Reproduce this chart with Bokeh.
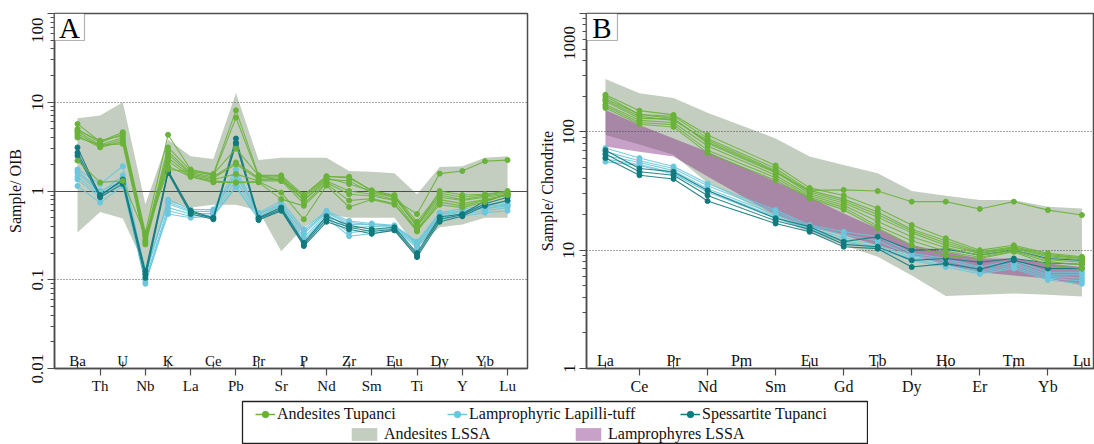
from bokeh.plotting import figure
from bokeh.layouts import column, row
from bokeh.models import (FixedTicker, CustomJSTickFormatter, Label, Legend,
                          LegendItem, Range1d, BoxAnnotation)
from bokeh.core.properties import value
from bokeh.embed import file_html
from bokeh.resources import INLINE
import math

SERIF = "Liberation Serif"

GREEN = "#6AB23A"
LIGHT = "#6CC6DC"
TEAL = "#12797D"
GRAY_FILL = "#C4CEC0"
PURPLE = "#8A3A8A"
AXIS = "#4d4d4d"

# ---------------- Panel A: OIB-normalised multi-element diagram ----------------
oib_elements = ["Ba", "Th", "U", "Nb", "K", "La", "Ce", "Pb", "Pr", "Sr",
                "P", "Nd", "Zr", "Sm", "Eu", "Ti", "Dy", "Y", "Yb", "Lu"]

oib_andesites = [
    [5.7, 3.6, 4.6, 0.34, 4.3, 1.75, 1.55, 8.1, 1.5, 1.5, 0.9, 1.45, 1.45, 1.0, 0.9, 0.45, 0.95, 0.85, 0.9, 0.98],
    [5.0, 3.5, 4.4, 0.30, 3.1, 1.7, 1.5, 6.7, 1.45, 1.45, 0.85, 1.4, 1.2, 1.0, 0.85, 0.42, 0.9, 0.8, 0.88, 0.95],
    [4.7, 3.3, 4.0, 0.28, 2.8, 1.6, 1.45, 2.1, 1.4, 1.4, 0.8, 1.35, 1.3, 0.95, 0.85, 0.40, 0.85, 0.78, 0.85, 0.92],
    [4.45, 3.2, 3.8, 0.27, 2.6, 1.55, 1.4, 2.0, 1.35, 1.35, 0.78, 1.3, 1.0, 0.92, 0.8, 0.55, 1.57, 1.68, 2.17, 2.23],
    [4.2, 3.1, 3.6, 0.26, 2.37, 1.5, 1.35, 1.55, 1.3, 1.3, 0.72, 1.25, 0.92, 0.88, 0.78, 0.37, 0.8, 0.72, 0.8, 0.9],
    [4.0, 3.3, 3.4, 0.25, 2.17, 1.45, 1.3, 1.24, 1.25, 0.81, 0.68, 1.2, 0.78, 0.82, 0.72, 0.35, 0.75, 0.68, 0.78, 0.9],
    [2.2, 1.25, 1.3, 0.32, 1.9, 1.45, 1.25, 1.25, 1.28, 0.96, 0.48, 1.15, 0.66, 0.8, 0.7, 0.36, 0.7, 0.65, 0.75, 0.92],
    [4.8, 3.7, 4.2, 0.31, 1.75, 1.65, 1.55, 3.0, 1.5, 1.3, 0.9, 1.47, 1.4, 1.02, 0.88, 0.40, 1.0, 0.9, 0.92, 1.0],
]

oib_lapilli = [
    [1.75, 1.2, 1.9, 0.11, 0.8, 0.62, 0.62, 1.75, 0.57, 0.77, 0.37, 0.6, 0.46, 0.43, 0.41, 0.27, 0.57, 0.63, 0.68, 0.77],
    [1.6, 0.95, 1.5, 0.12, 0.72, 0.58, 0.6, 1.47, 0.55, 0.72, 0.33, 0.57, 0.42, 0.42, 0.4, 0.26, 0.55, 0.6, 0.66, 0.72],
    [1.45, 0.9, 1.35, 0.10, 0.65, 0.55, 0.56, 1.3, 0.52, 0.68, 0.30, 0.55, 0.38, 0.4, 0.39, 0.25, 0.52, 0.58, 0.63, 0.68],
    [1.35, 0.85, 1.25, 0.09, 0.6, 0.52, 0.54, 1.14, 0.5, 0.65, 0.28, 0.52, 0.34, 0.36, 0.38, 0.24, 0.5, 0.55, 0.6, 0.65],
    [1.14, 0.74, 1.14, 0.095, 0.55, 0.5, 0.52, 1.1, 0.48, 0.6, 0.26, 0.5, 0.31, 0.33, 0.37, 0.23, 0.48, 0.52, 0.57, 0.6],
    [1.68, 1.0, 1.3, 0.13, 0.75, 0.6, 0.58, 1.6, 0.55, 0.7, 0.35, 0.58, 0.44, 0.42, 0.4, 0.26, 0.54, 0.6, 0.64, 0.7],
]

oib_spessartite = [
    [3.1, 0.88, 1.35, 0.125, 1.7, 0.6, 0.5, 3.9, 0.5, 0.65, 0.26, 0.52, 0.41, 0.37, 0.39, 0.20, 0.51, 0.55, 0.77, 0.92],
    [2.7, 0.9, 1.3, 0.115, 1.65, 0.58, 0.49, 3.5, 0.49, 0.62, 0.25, 0.48, 0.39, 0.35, 0.37, 0.19, 0.48, 0.54, 0.72, 0.85],
    [2.5, 0.85, 1.2, 0.105, 1.6, 0.55, 0.48, 3.4, 0.47, 0.6, 0.24, 0.45, 0.37, 0.33, 0.36, 0.18, 0.45, 0.52, 0.68, 0.78],
]

oib_lssa_andesites_max = [6.6, 7.1, 10.0, 0.71, 3.8, 2.47, 2.3, 12.7, 2.23, 2.37,
                          2.37, 2.37, 1.68, 1.65, 1.58, 0.92, 1.86, 1.9, 2.37, 2.47]
oib_lssa_andesites_min = [0.34, 0.58, 0.49, 0.137, 0.75, 0.65, 0.7, 0.7, 0.6, 0.21,
                          0.39, 0.55, 0.5, 0.5, 0.5, 0.23, 0.39, 0.42, 0.5, 0.5]

# ---------------- Panel B: chondrite-normalised REE diagram ----------------
ree_elements = ["La", "Ce", "Pr", "Nd", "Pm", "Sm", "Eu", "Gd", "Tb", "Dy",
                "Ho", "Er", "Tm", "Yb", "Lu"]
ree_measured = [e for e in ree_elements if e != "Pm"]

ree_andesites = [
    [200, 140, 130, 80, 45, 32, 32.3, 31.6, 25.7, 25.7, 22.3, 25.7, 21.8, 19.8],
    [206, 151, 139, 94, 52, 33.6, 29, 22.6, 16.3, 12.6, 10, 11, 9.4, 8.8],
    [190, 140, 135, 88, 49, 32, 27, 21, 15, 12, 9.7, 10.7, 9.2, 8.6],
    [180, 130, 128, 82, 46, 30, 25, 19, 14, 11, 9.4, 10.3, 8.8, 8.3],
    [170, 125, 120, 76, 43, 29, 24, 17.5, 13, 10.5, 9, 10, 8.3, 7.9],
    [165, 120, 115, 70, 41, 28, 23, 16, 12, 9.8, 8.7, 9.8, 8, 7.5],
    [159, 116, 110, 66, 39, 27.3, 22, 15.3, 11, 9, 8.5, 9.7, 7.5, 7.0],
    [185, 135, 125, 85, 47, 31, 26, 20, 14.5, 11.5, 9.5, 10.5, 9, 8.5],
]

ree_lapilli = [
    [73, 60, 51, 36.6, 21.8, 16.3, 14.3, 13, 9.4, 8.5, 7.2, 8.2, 6.5, 6.5],
    [68, 57, 49, 35, 21, 15.8, 13.5, 12, 9, 8.2, 7, 7.8, 6.2, 6.2],
    [63, 55, 47, 33, 20, 15.3, 12.8, 11, 8.7, 7.8, 6.7, 7.5, 6, 5.8],
    [59, 53, 45, 32, 19.2, 15, 12.2, 10.6, 8.4, 7.5, 6.5, 7.2, 5.8, 5.5],
    [56, 52, 44, 31, 18.6, 14.8, 11.8, 10.3, 8.2, 7.2, 6.3, 7, 5.6, 5.2],
]

ree_spessartite = [
    [70, 49, 46, 32, 18.6, 15.8, 11.8, 13, 10, 10.2, 9.1, 10, 8.5, 8.2],
    [65, 46, 43, 29, 17.7, 15, 11.2, 10.7, 8.2, 8.5, 7.9, 8.5, 7.8, 7.6],
    [60, 43, 40, 26, 16.8, 14.3, 10.7, 10.3, 7.2, 7.7, 6.9, 8.2, 7, 7],
]

ree_lssa_andesites_max = [279, 212, 193, 145, 88, 62, 52.5, 44.6, 31.6, 28.9, 26.5, 26.5, 23.3, 22.5]
ree_lssa_andesites_min = [94, 78, 64, 37, 19, 14, 11, 8.8, 6.1, 4.1, 4.2, 4.3, 4.2, 4.05]
ree_lssa_lamprophyres_max = [153, 114, 88, 68, 38, 28, 20.4, 15.2, 11, 9.7, 8.5, 8.5, 7.7, 7.2]
ree_lssa_lamprophyres_min = [75, 68, 62, 42, 19.8, 15.8, 13.4, 11, 9.1, 7.5, 6.5, 6.1, 5.75, 5.05]

FRAME_TOP = 13
FRAME_BOTTOM_BORDER = 30
PANEL_HEIGHT = 398
TICK_LEN = 7
FIGURE_SPACE = "\u2007"


class FrameGeom:
    """Pixel <-> data helpers for a log-y panel with a fixed frame."""

    def __init__(self, p, left, right):
        self.w = p.width - left - right
        self.h = PANEL_HEIGHT - FRAME_TOP - FRAME_BOTTOM_BORDER
        self.x0, self.x1 = p.x_range.start, p.x_range.end
        self.y0, self.y1 = p.y_range.start, p.y_range.end
        self.dec = math.log10(self.y1 / self.y0)

    def dx(self, px):
        return px * (self.x1 - self.x0) / self.w

    def y_down_from_top(self, px):
        return self.y1 / 10 ** (px * self.dec / self.h)

    def y_up_from_bottom(self, px):
        return self.y0 * 10 ** (px * self.dec / self.h)


def style_panel(p, g, elements, ylabel, y_major, label_size):
    p.grid.visible = False
    p.outline_line_color = AXIS
    p.outline_line_width = 1.5

    # left (log) axis
    ya = p.yaxis[0]
    minors = [k * 10.0 ** e for e in range(int(round(math.log10(y_major[0]))),
                                          int(round(math.log10(y_major[-1]))))
              for k in range(2, 10)]
    ya.ticker = FixedTicker(ticks=y_major, minor_ticks=minors)
    ya.formatter = CustomJSTickFormatter(code="return tick.toString();")
    # the top decade label sits below its tick, inside the frame height
    top = str(y_major[-1])
    ya.major_label_overrides = {y_major[-1]: top + FIGURE_SPACE * (len(top) - 1)}
    ya.major_label_orientation = "vertical"
    ya.major_label_text_font = SERIF
    ya.major_label_text_font_size = "17px"
    ya.major_label_text_color = "#111111"
    ya.major_label_standoff = 1
    ya.axis_label = ylabel
    ya.axis_label_text_font = SERIF
    ya.axis_label_text_font_style = "normal"
    ya.axis_label_text_font_size = "16px"
    ya.axis_label_text_color = "#111111"
    ya.axis_label_standoff = 1
    ya.axis_line_color = AXIS
    ya.axis_line_width = 1.5
    ya.major_tick_line_color = AXIS
    ya.minor_tick_line_color = AXIS
    ya.major_tick_line_width = 1.2
    ya.major_tick_in = 0
    ya.major_tick_out = TICK_LEN
    ya.minor_tick_in = 0
    ya.minor_tick_out = 4

    # bottom axis: odd positions labelled below the axis
    xa = p.xaxis[0]
    odd = list(range(1, len(elements), 2))
    xa.ticker = FixedTicker(ticks=odd)
    xa.major_label_overrides = {i: elements[i] for i in odd}
    xa.major_label_text_font = SERIF
    xa.major_label_text_font_size = label_size
    xa.major_label_text_color = "#111111"
    xa.major_label_standoff = 2
    xa.axis_line_color = AXIS
    xa.axis_line_width = 1.5
    xa.major_tick_line_color = AXIS
    xa.major_tick_line_width = 1.2
    xa.major_tick_in = 0
    xa.major_tick_out = TICK_LEN

    # even positions: short ticks pointing inwards, names written above the axis
    even = list(range(0, len(elements), 2))
    y_tick_top = g.y_up_from_bottom(TICK_LEN)
    p.segment(x0=even, x1=even, y0=[g.y0] * len(even), y1=[y_tick_top] * len(even),
              line_color=AXIS, line_width=1.2)
    p.text(x=even, y=[y_tick_top] * len(even), text=[elements[i] for i in even],
           text_align="center", text_baseline="alphabetic", y_offset=-1,
           text_font=value(SERIF), text_font_size=label_size, text_color="#111111")


def draw_samples(p, xs, samples, color):
    for vals in samples:
        p.line(x=xs, y=vals, line_color=color, line_width=1.1, line_alpha=0.9)
        p.scatter(x=xs, y=vals, size=5, fill_color=color, line_color=color)


def panel_letter(p, g, letter, box_w):
    box_h = 27
    p.add_layout(BoxAnnotation(left=g.x0, right=g.x0 + g.dx(box_w),
                               top=g.y1, bottom=g.y_down_from_top(box_h),
                               fill_color="white", fill_alpha=1.0,
                               line_color="#000000", line_width=1.2, level="annotation"))
    p.add_layout(Label(x=g.x0 + g.dx(box_w / 2), y=g.y_down_from_top(box_h / 2 + 1),
                       text=letter, text_align="center", text_baseline="middle",
                       text_font=SERIF, text_font_size="29px", text_color="#000000"))


# ---- Panel A ----
A_LEFT, A_RIGHT = 54, 8
pA = figure(width=535, height=PANEL_HEIGHT, x_range=Range1d(-1.016, 19.88),
            y_range=Range1d(0.01, 100), y_axis_type="log",
            output_backend="svg", toolbar_location=None,
            min_border_left=A_LEFT, min_border_right=A_RIGHT, min_border_top=FRAME_TOP,
            min_border_bottom=FRAME_BOTTOM_BORDER)
gA = FrameGeom(pA, A_LEFT, A_RIGHT)
xa_idx = list(range(len(oib_elements)))
pA.varea(x=xa_idx, y1=oib_lssa_andesites_min, y2=oib_lssa_andesites_max,
         fill_color=GRAY_FILL)
pA.hspan(y=[0.1, 10], line_color=AXIS, line_width=1, line_dash="1 2")
pA.hspan(y=[1], line_color=AXIS, line_width=1.2)
draw_samples(pA, xa_idx, oib_lapilli, LIGHT)
draw_samples(pA, xa_idx, oib_spessartite, TEAL)
draw_samples(pA, xa_idx, oib_andesites, GREEN)
style_panel(pA, gA, oib_elements, "Sample/ OIB", [0.01, 0.1, 1, 10, 100], "15px")
panel_letter(pA, gA, "A", 30)

# ---- Panel B ----
B_LEFT, B_RIGHT = 50, 0
pB = figure(width=559, height=PANEL_HEIGHT, x_range=Range1d(-0.557, 14.37),
            y_range=Range1d(1, 1000), y_axis_type="log",
            output_backend="svg", toolbar_location=None,
            min_border_left=B_LEFT, min_border_right=B_RIGHT, min_border_top=FRAME_TOP,
            min_border_bottom=FRAME_BOTTOM_BORDER)
gB = FrameGeom(pB, B_LEFT, B_RIGHT)
xb_idx = [ree_elements.index(e) for e in ree_measured]
pB.varea(x=xb_idx, y1=ree_lssa_andesites_min, y2=ree_lssa_andesites_max,
         fill_color=GRAY_FILL)
pB.varea(x=xb_idx, y1=ree_lssa_lamprophyres_min, y2=ree_lssa_lamprophyres_max,
         fill_color=PURPLE, fill_alpha=0.48)
pB.hspan(y=[10, 100], line_color=AXIS, line_width=1, line_dash="1 2")
draw_samples(pB, xb_idx, ree_lapilli, LIGHT)
draw_samples(pB, xb_idx, ree_spessartite, TEAL)
draw_samples(pB, xb_idx, ree_andesites, GREEN)
style_panel(pB, gB, ree_elements, "Sample/ Chondrite", [1, 10, 100, 1000], "16px")
panel_letter(pB, gB, "B", 31)

# ---- Shared legend ----
pL = figure(width=868, height=46, x_range=Range1d(0, 1), y_range=Range1d(0, 1),
            output_backend="svg", toolbar_location=None,
            x_axis_location=None, y_axis_location=None,
            min_border_left=242, min_border_right=0, min_border_top=3,
            min_border_bottom=1)
pL.grid.visible = False
pL.outline_line_color = "#222222"
pL.outline_line_width = 1.3

# legend swatches are fed a point lying outside the visible box
series_entries = [("Andesites Tupanci", GREEN, (13, 20)),
                  ("Lamprophyric Lapilli-tuff", LIGHT, (205, 20)),
                  ("Spessartite Tupanci", TEAL, (438, 20))]
for name, color, loc in series_entries:
    rl = pL.line(x=[5, 6], y=[5, 5], line_color=color, line_width=1.5)
    rs = pL.scatter(x=[5], y=[5], size=9, fill_color=color, line_color=color)
    pL.add_layout(Legend(items=[LegendItem(label=name, renderers=[rl, rs])],
                         location=loc, orientation="horizontal",
                         border_line_color=None, background_fill_alpha=0,
                         padding=0, margin=0, spacing=0,
                         glyph_width=20, glyph_height=16, label_standoff=2,
                         label_text_font=SERIF, label_text_font_size="16px",
                         label_text_color="#111111"))

area_entries = [("Andesites LSSA", GRAY_FILL, 1.0, (106, 0)),
                ("Lamprophyres LSSA", PURPLE, 0.48, (330, 0))]
for name, color, alpha, loc in area_entries:
    ra = pL.varea(x=[5, 6], y1=[5, 5], y2=[6, 6], fill_color=color, fill_alpha=alpha)
    pL.add_layout(Legend(items=[LegendItem(label=name, renderers=[ra])],
                         location=loc, orientation="horizontal",
                         border_line_color=None, background_fill_alpha=0,
                         padding=0, margin=0, spacing=0,
                         glyph_width=32, glyph_height=16, label_standoff=4,
                         label_text_font=SERIF, label_text_font_size="16px",
                         label_text_color="#111111"))

layout = column(row(pA, pB), pL)
open("out.html", "w").write(file_html(layout, INLINE))
